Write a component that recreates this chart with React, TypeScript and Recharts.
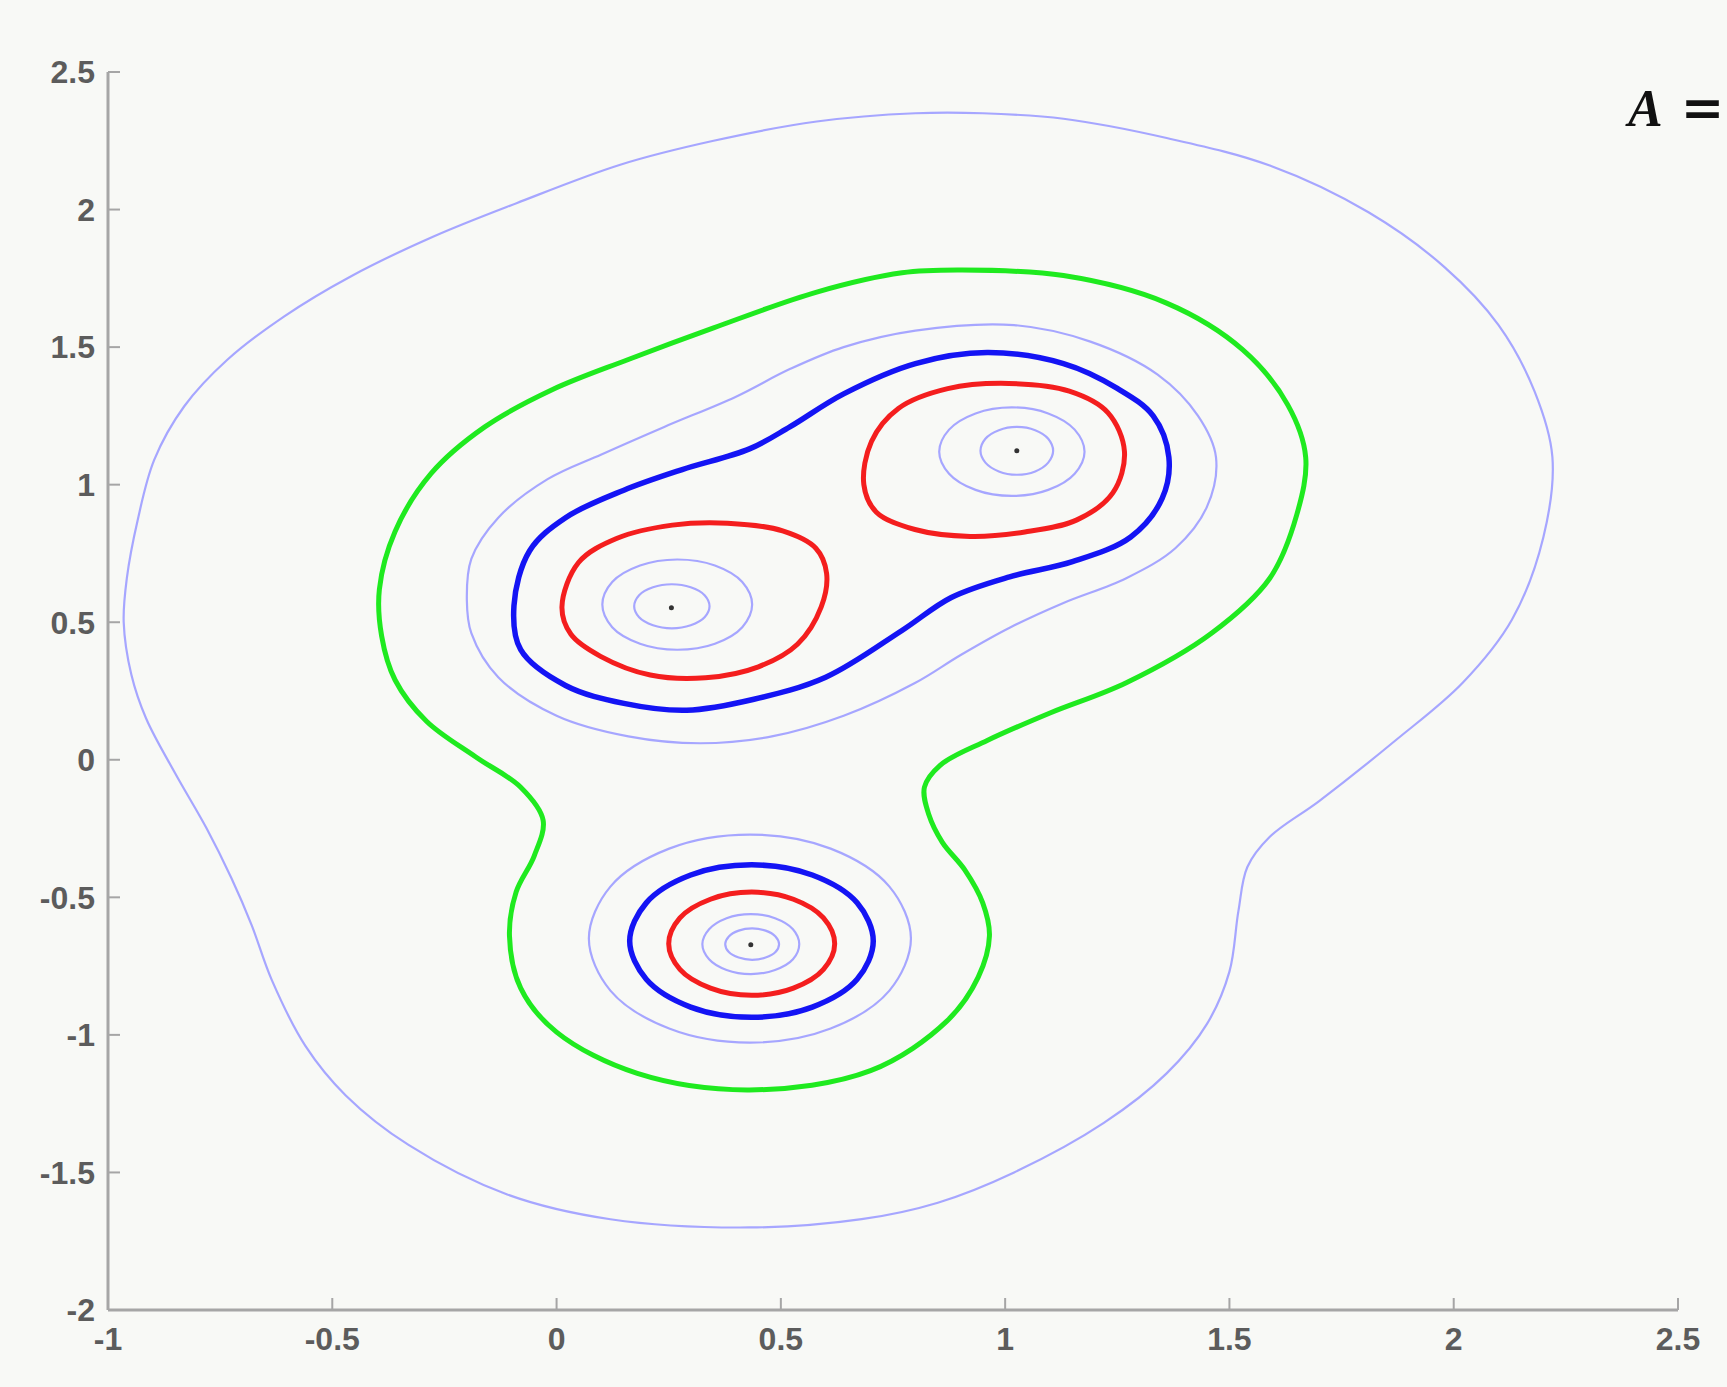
import React from "react";
import { ComposedChart, Line, Scatter, XAxis, YAxis } from "recharts";

type Pt = [number, number];

// contour paths, in data units [x, y]
const outerLevel: Pt[] = [
  [-0.965, 0.5], [-0.958, 0.66], [-0.934, 0.87], [-0.897, 1.09], [-0.83, 1.285], [-0.734, 1.454],
  [-0.607, 1.612], [-0.459, 1.757], [-0.273, 1.903], [-0.088, 2.024], [0.142, 2.163], [0.35, 2.25],
  [0.58, 2.32], [0.8, 2.35], [0.95, 2.35], [1.13, 2.33], [1.36, 2.26], [1.59, 2.16],
  [1.81, 1.99], [1.98, 1.79], [2.1, 1.58], [2.18, 1.34], [2.22, 1.1], [2.2, 0.81],
  [2.13, 0.51], [2.02, 0.28], [1.87, 0.07], [1.7, -0.15], [1.59, -0.28], [1.54, -0.39],
  [1.52, -0.55], [1.5, -0.77], [1.45, -0.96], [1.36, -1.14], [1.22, -1.32], [1.02, -1.5],
  [0.85, -1.61], [0.68, -1.67], [0.43, -1.7], [0.12, -1.67], [-0.11, -1.58], [-0.33, -1.4],
  [-0.47, -1.22], [-0.56, -1.04], [-0.635, -0.8], [-0.68, -0.6], [-0.725, -0.43], [-0.78, -0.25],
  [-0.85, -0.05], [-0.915, 0.15], [-0.948, 0.31],
];

const greenLevel: Pt[] = [
  [0.77, 1.77], [0.9, 1.78], [1.13, 1.76], [1.36, 1.66], [1.53, 1.49], [1.63, 1.29],
  [1.67, 1.1], [1.65, 0.89], [1.59, 0.66], [1.46, 0.46], [1.27, 0.28], [1.1, 0.17],
  [0.96, 0.07], [0.855, -0.02], [0.82, -0.1], [0.83, -0.2], [0.86, -0.3], [0.91, -0.4],
  [0.95, -0.52], [0.965, -0.64], [0.94, -0.79], [0.87, -0.95], [0.7, -1.13], [0.43, -1.2],
  [0.18, -1.14], [0.0, -0.99], [-0.08, -0.83], [-0.105, -0.64], [-0.09, -0.48], [-0.05, -0.35],
  [-0.03, -0.22], [-0.08, -0.1], [-0.18, 0.01], [-0.29, 0.14], [-0.36, 0.29], [-0.39, 0.45],
  [-0.395, 0.62], [-0.36, 0.83], [-0.28, 1.04], [-0.16, 1.21], [-0.01, 1.345], [0.16, 1.455],
  [0.35, 1.57], [0.58, 1.7],
];

const upperThin: Pt[] = [
  [-0.2, 0.58], [-0.19, 0.73], [-0.13, 0.88], [-0.02, 1.02], [0.1, 1.11], [0.24, 1.21],
  [0.4, 1.32], [0.52, 1.42], [0.64, 1.5], [0.8, 1.56], [1.02, 1.58], [1.19, 1.52],
  [1.34, 1.4], [1.43, 1.25], [1.47, 1.1], [1.45, 0.92], [1.38, 0.77], [1.27, 0.66],
  [1.13, 0.57], [1.01, 0.48], [0.9, 0.38], [0.8, 0.28], [0.64, 0.16], [0.48, 0.085],
  [0.32, 0.06], [0.16, 0.085], [0.0, 0.16], [-0.13, 0.3], [-0.19, 0.46],
];

const upperBlue: Pt[] = [
  [-0.095, 0.56], [-0.06, 0.76], [0.02, 0.88], [0.15, 0.98], [0.28, 1.055], [0.43, 1.13],
  [0.52, 1.21], [0.64, 1.33], [0.8, 1.44], [0.96, 1.48], [1.13, 1.44], [1.25, 1.35],
  [1.33, 1.25], [1.365, 1.1], [1.35, 0.95], [1.28, 0.81], [1.15, 0.72], [1.01, 0.665],
  [0.88, 0.59], [0.77, 0.47], [0.6, 0.3], [0.44, 0.22], [0.29, 0.18], [0.15, 0.205],
  [0.02, 0.27], [-0.08, 0.4],
];

const redLeft: Pt[] = [
  [0.012, 0.556], [0.049, 0.717], [0.135, 0.805], [0.258, 0.853], [0.381, 0.86], [0.504, 0.832],
  [0.578, 0.769], [0.602, 0.677], [0.59, 0.556], [0.537, 0.42], [0.45, 0.338], [0.332, 0.298],
  [0.209, 0.308], [0.098, 0.376], [0.032, 0.456],
];

const redRight: Pt[] = [
  [0.685, 1.0], [0.702, 1.157], [0.762, 1.277], [0.872, 1.349], [1.008, 1.368], [1.143, 1.34],
  [1.229, 1.262], [1.266, 1.12], [1.24, 0.97], [1.16, 0.872], [1.044, 0.828], [0.922, 0.812],
  [0.799, 0.837], [0.713, 0.9],
];

const ringLeftA: Pt[] = [
  [0.436, 0.564], [0.414, 0.646], [0.353, 0.706], [0.269, 0.728], [0.186, 0.706], [0.124, 0.646],
  [0.102, 0.564], [0.124, 0.482], [0.186, 0.422], [0.269, 0.4], [0.353, 0.422], [0.414, 0.482],
];
const ringLeftB: Pt[] = [
  [0.341, 0.558], [0.33, 0.598], [0.299, 0.627], [0.257, 0.638], [0.215, 0.627], [0.184, 0.598],
  [0.173, 0.558], [0.184, 0.518], [0.215, 0.489], [0.257, 0.478], [0.299, 0.489], [0.33, 0.518],
];
const ringRightA: Pt[] = [
  [1.177, 1.12], [1.155, 1.2], [1.096, 1.259], [1.015, 1.281], [0.934, 1.259], [0.875, 1.2],
  [0.853, 1.12], [0.875, 1.04], [0.934, 0.981], [1.015, 0.959], [1.096, 0.981], [1.155, 1.04],
];
const ringRightB: Pt[] = [
  [1.107, 1.123], [1.096, 1.167], [1.067, 1.198], [1.026, 1.21], [0.986, 1.198], [0.956, 1.167],
  [0.945, 1.123], [0.956, 1.08], [0.986, 1.048], [1.026, 1.036], [1.067, 1.048], [1.096, 1.08],
];

const lowerThin: Pt[] = [
  [0.79, -0.65], [0.742, -0.461], [0.611, -0.323], [0.431, -0.272], [0.251, -0.323], [0.12, -0.461],
  [0.072, -0.65], [0.12, -0.839], [0.251, -0.977], [0.431, -1.028], [0.611, -0.977], [0.742, -0.839],
];
const lowerBlue: Pt[] = [
  [0.706, -0.659], [0.67, -0.52], [0.57, -0.419], [0.435, -0.382], [0.299, -0.419], [0.2, -0.52],
  [0.163, -0.659], [0.2, -0.798], [0.299, -0.899], [0.435, -0.936], [0.57, -0.899], [0.67, -0.798],
];
const lowerRed: Pt[] = [
  [0.62, -0.669], [0.595, -0.575], [0.528, -0.507], [0.435, -0.481], [0.343, -0.507], [0.275, -0.575],
  [0.25, -0.669], [0.275, -0.762], [0.343, -0.83], [0.435, -0.856], [0.528, -0.83], [0.595, -0.762],
];
const lowerRingA: Pt[] = [
  [0.541, -0.67], [0.527, -0.616], [0.487, -0.576], [0.433, -0.561], [0.379, -0.576], [0.34, -0.616],
  [0.325, -0.67], [0.34, -0.725], [0.379, -0.764], [0.433, -0.779], [0.487, -0.764], [0.527, -0.725],
];
const lowerRingB: Pt[] = [
  [0.496, -0.67], [0.488, -0.642], [0.466, -0.621], [0.436, -0.613], [0.406, -0.621], [0.384, -0.642],
  [0.376, -0.67], [0.384, -0.699], [0.406, -0.719], [0.436, -0.727], [0.466, -0.719], [0.488, -0.699],
];

const centers: Pt[] = [[0.256, 0.553], [1.026, 1.123], [0.433, -0.672]];

const xTicks = [-1, -0.5, 0, 0.5, 1, 1.5, 2, 2.5];
const yTicks = [-2, -1.5, -1, -0.5, 0, 0.5, 1, 1.5, 2, 2.5];

const LIGHT = "#a6a6ff";
const BLUE = "#1414f4";
const RED = "#f41e1e";
const GREEN = "#1fea1f";

// closed centripetal catmull-rom, so every contour loops back smoothly
function closedCurve(context: any) {
  let pts: number[][] = [];
  return {
    areaStart() {},
    areaEnd() {},
    lineStart() { pts = []; },
    point(x: number, y: number) { pts.push([x, y]); },
    lineEnd() {
      const n = pts.length;
      if (n < 3) return;
      const d = (a: number[], b: number[]) => Math.sqrt(Math.hypot(b[0] - a[0], b[1] - a[1]));
      context.moveTo(pts[0][0], pts[0][1]);
      for (let i = 0; i < n; i++) {
        const p0 = pts[(i - 1 + n) % n], p1 = pts[i], p2 = pts[(i + 1) % n], p3 = pts[(i + 2) % n];
        const l01 = d(p0, p1), l12 = d(p1, p2), l23 = d(p2, p3);
        let c1 = [p1[0], p1[1]], c2 = [p2[0], p2[1]];
        if (l01 > 1e-9) {
          const a = 2 * l01 * l01 + 3 * l01 * l12 + l12 * l12, m = 3 * l01 * (l01 + l12);
          c1 = [0, 1].map((k) => (p1[k] * a - p0[k] * l12 * l12 + p2[k] * l01 * l01) / m);
        }
        if (l23 > 1e-9) {
          const b = 2 * l23 * l23 + 3 * l23 * l12 + l12 * l12, m = 3 * l23 * (l23 + l12);
          c2 = [0, 1].map((k) => (p2[k] * b + p1[k] * l23 * l23 - p3[k] * l12 * l12) / m);
        }
        context.bezierCurveTo(c1[0], c1[1], c2[0], c2[1], p2[0], p2[1]);
      }
      context.closePath();
    },
  };
}

const toRows = (pts: Pt[]) => pts.map(([x, y]) => ({ x, y }));

const contours: { key: string; pts: Pt[]; color: string; width: number }[] = [
  { key: "outer", pts: outerLevel, color: LIGHT, width: 2.2 },
  { key: "green", pts: greenLevel, color: GREEN, width: 5 },
  { key: "upperThin", pts: upperThin, color: LIGHT, width: 2.2 },
  { key: "upperBlue", pts: upperBlue, color: BLUE, width: 5.5 },
  { key: "redLeft", pts: redLeft, color: RED, width: 5 },
  { key: "redRight", pts: redRight, color: RED, width: 5 },
  { key: "ringLeftA", pts: ringLeftA, color: LIGHT, width: 2.2 },
  { key: "ringLeftB", pts: ringLeftB, color: LIGHT, width: 2.2 },
  { key: "ringRightA", pts: ringRightA, color: LIGHT, width: 2.2 },
  { key: "ringRightB", pts: ringRightB, color: LIGHT, width: 2.2 },
  { key: "lowerThin", pts: lowerThin, color: LIGHT, width: 2.2 },
  { key: "lowerBlue", pts: lowerBlue, color: BLUE, width: 5.5 },
  { key: "lowerRed", pts: lowerRed, color: RED, width: 5 },
  { key: "lowerRingA", pts: lowerRingA, color: LIGHT, width: 2.2 },
  { key: "lowerRingB", pts: lowerRingB, color: LIGHT, width: 2.2 },
];

const tickStyle = {
  fontSize: 32,
  fontWeight: 700,
  fill: "#5c5c5c",
  fontFamily: "'Liberation Sans', Arial, sans-serif",
};

export default function App() {
  return (
    <div
      style={{
        position: "absolute", left: 0, top: 0, width: 1727, height: 1387,
        background: "#f8f9f6", overflow: "hidden",
      }}
    >
      <ComposedChart width={1727} height={1387} margin={{ top: 72, right: 49, bottom: 37, left: 8 }}>
        <XAxis
          type="number" dataKey="x" domain={[-1, 2.5]} ticks={xTicks} allowDataOverflow
          height={40} tickSize={-12} tickMargin={29} interval={0}
          axisLine={{ stroke: "#a6a6a6", strokeWidth: 3 }}
          tickLine={{ stroke: "#a6a6a6", strokeWidth: 2 }}
          tick={tickStyle}
        />
        <YAxis
          type="number" dataKey="y" domain={[-2, 2.5]} ticks={yTicks} allowDataOverflow
          width={100} tickSize={-12} tickMargin={25} interval={0}
          axisLine={{ stroke: "#a6a6a6", strokeWidth: 3 }}
          tickLine={{ stroke: "#a6a6a6", strokeWidth: 2 }}
          tick={tickStyle}
        />
        {contours.map((c) => (
          <Line
            key={c.key}
            data={toRows(c.pts)}
            dataKey="y"
            type={closedCurve as any}
            stroke={c.color}
            strokeWidth={c.width}
            dot={false}
            activeDot={false}
            isAnimationActive={false}
          />
        ))}
        <Scatter
          data={toRows(centers)}
          dataKey="y"
          fill="#333"
          isAnimationActive={false}
          shape={(p: any) => <circle cx={p.cx} cy={p.cy} r={2.5} fill="#333" />}
        />
      </ComposedChart>
      <div
        style={{
          position: "absolute", left: 1628, top: 82, fontSize: 52, lineHeight: 1,
          fontFamily: "'Liberation Serif', 'Times New Roman', serif", color: "#111",
          fontWeight: 700, whiteSpace: "nowrap",
        }}
      >
        <span style={{ fontStyle: "italic" }}>A</span>
        <span style={{ marginLeft: 18, fontFamily: "'DejaVu Serif', serif" }}>=</span>
      </div>
    </div>
  );
}
